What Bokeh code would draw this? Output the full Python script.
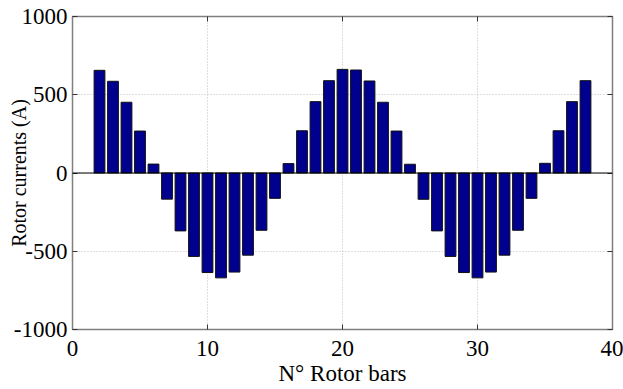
from bokeh.plotting import figure
from bokeh.models import LinearAxis, FixedTicker, Span, Range1d, ColumnDataSource
from bokeh.embed import file_html
from bokeh.resources import INLINE

bar_numbers = list(range(2, 39))
rotor_currents = [656, 586, 452, 268, 57, -167, -370, -533, -636, -670, -633, -525, -366, -162,
                  60, 270, 456, 590, 662, 658, 588, 452, 268, 56, -168, -370, -533, -636, -670,
                  -633, -525, -366, -162, 62, 270, 456, 590]
x_ticks = [0, 10, 20, 30, 40]
y_ticks = [-1000, -500, 0, 500, 1000]

FONT = "Liberation Serif"
AXC = "#7f7f7f"

p = figure(width=623, height=389, output_backend="svg", toolbar_location=None,
           x_range=Range1d(0, 40), y_range=Range1d(-1000, 1000),
           min_border_left=72, min_border_right=11, min_border_top=16, min_border_bottom=60,
           x_axis_label="N° Rotor bars", y_axis_label="Rotor currents (A)")
p.background_fill_color = "white"
p.border_fill_color = "white"
p.outline_line_color = AXC
p.outline_line_width = 1.5

src = ColumnDataSource(dict(x=bar_numbers, top=rotor_currents))
p.vbar(x="x", top="top", bottom=0, width=0.8, source=src,
       fill_color="#00008F", line_color="#101010", line_width=1)

p.add_layout(Span(location=0, dimension="width", line_color="black", line_width=1))

for ax, ticks in ((p.xaxis[0], x_ticks), (p.yaxis[0], y_ticks)):
    ax.ticker = FixedTicker(ticks=ticks)
    ax.major_label_overrides = {t: str(t) for t in ticks}
    ax.minor_tick_line_color = None
    ax.major_tick_in = 5
    ax.major_tick_out = 0
    ax.axis_line_color = AXC
    ax.major_tick_line_color = "#333333"
    ax.major_label_text_font = FONT
    ax.major_label_text_font_size = "23px"
    ax.major_label_text_color = "black"
    ax.axis_label_text_font = FONT
    ax.axis_label_text_font_style = "normal"
    ax.axis_label_text_color = "black"

p.xaxis[0].axis_label_text_font_size = "23px"
p.yaxis[0].axis_label_text_font_size = "20px"
p.xaxis[0].major_label_standoff = 11
p.xaxis[0].axis_label_standoff = 2
p.yaxis[0].major_label_standoff = 5
p.yaxis[0].axis_label_standoff = -19

for side, ticks in (("above", x_ticks), ("right", y_ticks)):
    ax = LinearAxis(ticker=FixedTicker(ticks=ticks))
    ax.major_label_overrides = {t: "" for t in ticks}
    ax.major_label_standoff = 0
    ax.minor_tick_line_color = None
    ax.major_tick_in = 5
    ax.major_tick_out = 0
    ax.axis_line_color = AXC
    ax.major_tick_line_color = "#333333"
    p.add_layout(ax, side)

p.xgrid.ticker = FixedTicker(ticks=x_ticks)
p.ygrid.ticker = FixedTicker(ticks=y_ticks)
for g in (p.xgrid[0], p.ygrid[0]):
    g.grid_line_color = "#bfbfbf"
    g.grid_line_dash = "1 2"
    g.grid_line_width = 1

open("out.html", "w").write(file_html(p, INLINE))
